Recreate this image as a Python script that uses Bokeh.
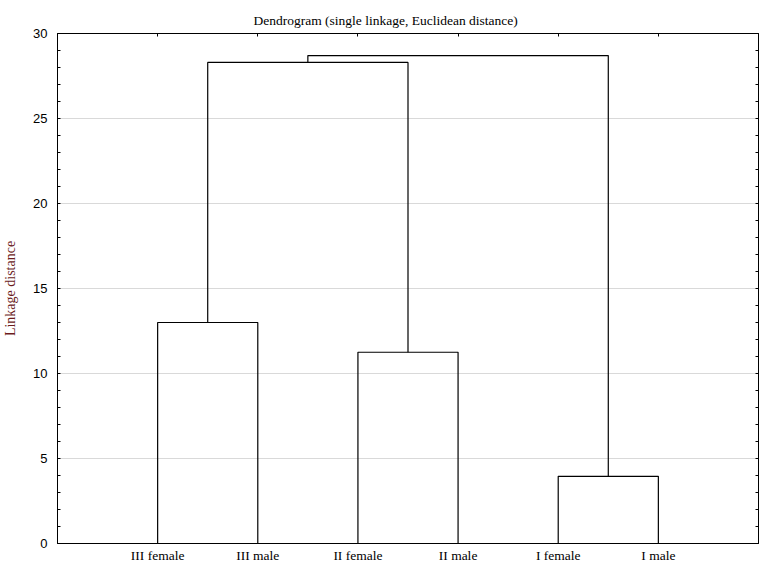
from bokeh.plotting import figure
from bokeh.models import ColumnDataSource, FixedTicker, LinearAxis, Range1d, Grid
from bokeh.embed import file_html
from bokeh.resources import INLINE

# ---- data ----
leaves = ["III female", "III male", "II female", "II male", "I female", "I male"]
# linkage: (child a, child b, distance); new nodes get ids 6, 7, ...
merge_a = [0, 2, 4, 6, 9]
merge_b = [1, 3, 5, 7, 8]
merge_dist = [13.0, 11.25, 3.95, 28.3, 28.7]
y_ticks = [0, 5, 10, 15, 20, 25, 30]

# ---- dendrogram geometry from the linkage ----
node_x = {i: i + 1 for i in range(len(leaves))}
node_h = {i: 0.0 for i in range(len(leaves))}
xs, ys = [], []
for k, (a, b, d) in enumerate(zip(merge_a, merge_b, merge_dist)):
    nid = len(leaves) + k
    xs.append([node_x[a], node_x[a], node_x[b], node_x[b]])
    ys.append([node_h[a], d, d, node_h[b]])
    node_x[nid] = (node_x[a] + node_x[b]) / 2
    node_h[nid] = d
src = ColumnDataSource(dict(xs=xs, ys=ys))

leaf_pos = [i + 1 for i in range(len(leaves))]
minor = [v for v in range(0, 31) if v % 5 != 0]

SERIF = "Liberation Serif"
SANS = "Liberation Sans"

p = figure(width=759, height=565, output_backend="svg", toolbar_location=None,
           x_range=Range1d(0, len(leaves) + 1), y_range=Range1d(0, 30),
           min_border_left=49, min_border_right=1, min_border_top=33, min_border_bottom=22,
           x_axis_location=None, y_axis_location=None)
p.background_fill_color = "white"
p.border_fill_color = "white"
p.outline_line_color = "black"
p.outline_line_width = 1
p.xgrid.visible = False
p.ygrid.visible = False

p.title.text = "Dendrogram (single linkage, Euclidean distance)"
p.title.align = "left"
p.title.offset = 196
p.title.text_font = SERIF
p.title.text_font_style = "normal"
p.title.text_font_size = "13.5px"
p.title.text_color = "black"
p.title.standoff = 8
p.title.vertical_align = "top"

p.multi_line(xs="xs", ys="ys", source=src, line_color="black", line_width=1.2)

# bottom axis with leaf labels
xb = LinearAxis(ticker=FixedTicker(ticks=leaf_pos),
                major_label_overrides={pos: name for pos, name in zip(leaf_pos, leaves)})
xb.major_tick_in = 0
xb.major_tick_out = 0
xb.minor_tick_in = 0
xb.minor_tick_out = 0
xb.major_label_standoff = 4
xb.major_label_text_font = SERIF
xb.major_label_text_font_size = "13.5px"
xb.major_label_text_color = "black"
xb.axis_line_color = "black"
p.add_layout(xb, "below")

# top axis: inward ticks at the leaves, no labels
xt = LinearAxis(ticker=FixedTicker(ticks=leaf_pos),
                major_label_overrides={pos: "" for pos in leaf_pos})
xt.major_tick_in = 3
xt.major_tick_out = 0
xt.minor_tick_in = 0
xt.minor_tick_out = 0
xt.major_label_standoff = 0
xt.axis_line_color = "black"
p.add_layout(xt, "above")

# left axis
yl = LinearAxis(ticker=FixedTicker(ticks=y_ticks, minor_ticks=minor),
                axis_label="Linkage distance")
yl.major_tick_in = 3
yl.major_tick_out = 0
yl.minor_tick_in = 3
yl.minor_tick_out = 0
yl.major_label_standoff = 10
yl.major_label_text_font = SANS
yl.major_label_text_font_size = "13px"
yl.major_label_text_color = "black"
yl.axis_label_text_font = SERIF
yl.axis_label_text_font_style = "normal"
yl.axis_label_text_font_size = "14px"
yl.axis_label_text_color = "#6b1c1c"
yl.axis_label_standoff = 12
yl.axis_line_color = "black"
p.add_layout(yl, "left")

# right axis: inward ticks only, no labels
yr = LinearAxis(ticker=FixedTicker(ticks=y_ticks, minor_ticks=minor),
                major_label_overrides={t: "" for t in y_ticks})
yr.major_tick_in = 3
yr.major_tick_out = 0
yr.minor_tick_in = 3
yr.minor_tick_out = 0
yr.major_label_standoff = 0
yr.axis_line_color = "black"
p.add_layout(yr, "right")

g = Grid(dimension=1, ticker=FixedTicker(ticks=y_ticks))
g.grid_line_color = "#d9d9d9"
g.grid_line_width = 1
p.add_layout(g, "center")

open("out.html", "w").write(file_html(p, INLINE))
